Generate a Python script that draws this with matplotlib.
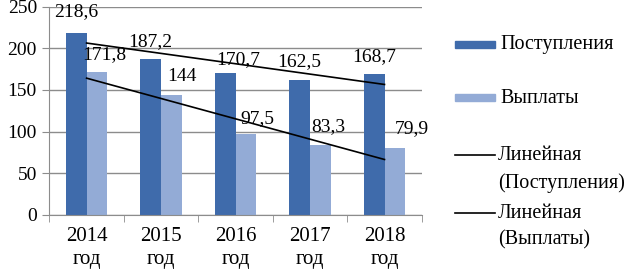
import matplotlib
matplotlib.use("Agg")
import matplotlib.pyplot as plt
import numpy as np
from matplotlib.lines import Line2D
from matplotlib.patches import Rectangle

years = ["2014\nгод", "2015\nгод", "2016\nгод", "2017\nгод", "2018\nгод"]
receipts = [218.6, 187.2, 170.7, 162.5, 168.7]
payments = [171.8, 144, 97.5, 83.3, 79.9]
receipts_lbl = ["218,6", "187,2", "170,7", "162,5", "168,7"]
payments_lbl = ["171,8", "144", "97,5", "83,3", "79,9"]

# label nudges in pixels (dx, dy above bar top), as placed in the original
receipts_nudge = [(0, 17), (0, 13), (13, 8.5), (0, 13), (0, 13)]
payments_nudge = [(7.5, 12.6), (10, 13.6), (11, 11), (8, 14), (17, 15)]

DARK = "#3f6bab"
LIGHT = "#93abd6"
GRID = "#8c8c8c"
PT = 0.72  # points per pixel at dpi 100

plt.rcParams["font.family"] = ["Liberation Serif", "DejaVu Serif"]

fig = plt.figure(figsize=(6.29, 2.73), dpi=100)
ax = fig.add_axes([0.0785, 0.2135, 0.592, 0.7615])

x = np.arange(len(years))
w = 0.28
ax.bar(x - w / 2, receipts, w, color=DARK, zorder=2)
ax.bar(x + w / 2, payments, w, color=LIGHT, zorder=2)

# linear trend lines
for vals in (receipts, payments):
    k, b = np.polyfit(x, vals, 1)
    ax.plot(x, k * x + b, color="black", lw=1.2, zorder=3)

for xi, v, s, (dx, dy) in zip(x, receipts, receipts_lbl, receipts_nudge):
    ax.annotate(s, (xi - w / 2, v), xytext=(dx * PT, dy * PT), textcoords="offset points",
                ha="center", va="baseline", fontsize=14, annotation_clip=False, zorder=4)
for xi, v, s, (dx, dy) in zip(x, payments, payments_lbl, payments_nudge):
    ax.annotate(s, (xi + w / 2, v), xytext=(dx * PT, dy * PT), textcoords="offset points",
                ha="center", va="baseline", fontsize=14, annotation_clip=False, zorder=4)

ax.set_xlim(-0.5, 4.5)
ax.set_ylim(0, 250)
ax.set_yticks(range(0, 251, 50))
ax.yaxis.grid(True, color=GRID, lw=1)
ax.set_axisbelow(True)
ax.set_xticks(x)
ax.set_xticklabels(years, fontsize=15, linespacing=1.3)
ax.set_xticks(np.arange(-0.5, 5, 1), minor=True)
ax.tick_params(axis="x", which="major", length=0, pad=9)
ax.tick_params(axis="x", which="minor", length=5, color=GRID, direction="out")
ax.tick_params(axis="y", length=5, color=GRID, labelsize=14, pad=4)
for sp in ("top", "right"):
    ax.spines[sp].set_visible(False)
for sp in ("left", "bottom"):
    ax.spines[sp].set_color(GRID)

# legend drawn by hand in figure pixels
W, H = 629, 273
def fy(py):
    return 1 - py / H

fig.patches.append(Rectangle((455 / W, fy(48)), 40 / W, 7 / H, transform=fig.transFigure,
                             color=DARK))
fig.patches.append(Rectangle((455 / W, fy(101)), 40 / W, 7 / H, transform=fig.transFigure,
                             color=LIGHT))
fig.lines.append(Line2D([455 / W, 495 / W], [fy(155), fy(155)], transform=fig.transFigure,
                        color="black", lw=1.2))
fig.lines.append(Line2D([455 / W, 495 / W], [fy(213), fy(213)], transform=fig.transFigure,
                        color="black", lw=1.2))
fs = 14.5
fig.text(500 / W, fy(44), "Поступления", fontsize=fs, va="center")
fig.text(500 / W, fy(98), "Выплаты", fontsize=fs, va="center")
fig.text(498 / W, fy(155), "Линейная", fontsize=fs, va="center")
fig.text(498 / W, fy(183), "(Поступления)", fontsize=fs, va="center")
fig.text(498 / W, fy(213), "Линейная", fontsize=fs, va="center")
fig.text(498 / W, fy(240), "(Выплаты)", fontsize=fs, va="center")

fig.savefig("out.png", dpi=100)
